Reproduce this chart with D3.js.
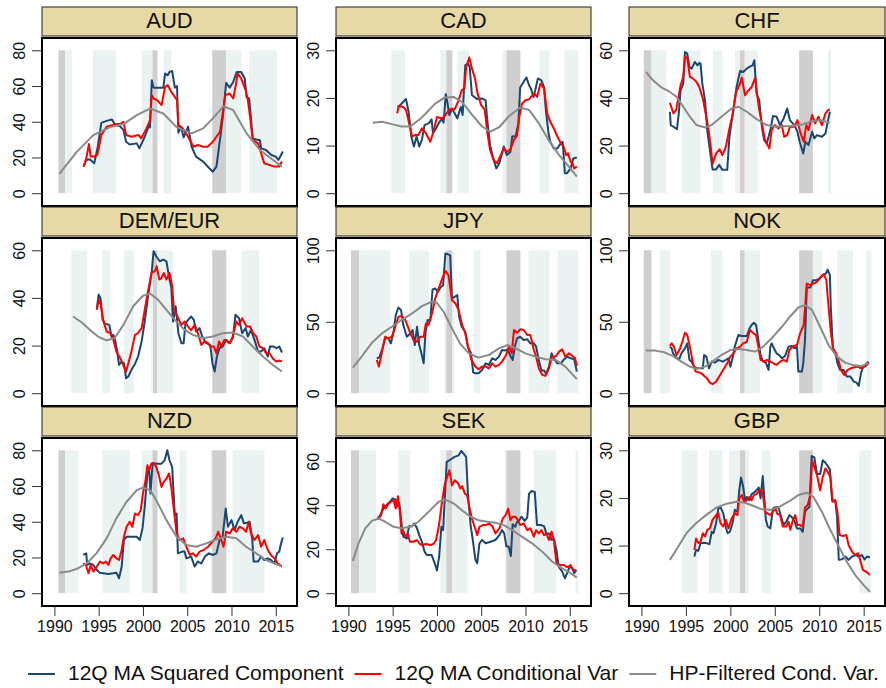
<!DOCTYPE html>
<html>
<head>
<meta charset="utf-8">
<script src="https://cdn.jsdelivr.net/npm/d3@7"></script>
<style>
  body { margin: 0; background: #fff; }
  text { font-family: "Liberation Sans", Arial, sans-serif; fill: #111; }
</style>
</head>
<body>
<svg id="chart" width="886" height="688"></svg>
<script>
// shading bands: [start, end, kind]  kind 0 = light, 1 = dark
const audBands = [[1990.45,1991.2,1],[1991.2,1992.0,0],[1994.35,1996.95,0],[1999.87,2001.07,0],[2001.07,2001.64,1],[2002.35,2003.2,0],[2007.83,2009.4,1],[2009.4,2011.1,0],[2012.0,2015.15,0]];
const audHp = [[1990.56,10.8],[1992.5,23],[1994.4,32.5],[1996.3,37],[1997.8,38.7],[1999.3,43.7],[2000.8,47.4],[2002.3,44.6],[2003.8,37],[2005.5,33.5],[2006.8,36.3],[2007.9,41.9],[2009.1,48.7],[2010.2,46.5],[2011.7,33.5],[2013.2,24.2],[2014.7,18.6],[2015.7,14.9]];
const audSq = [[1993.3,14.9],[1993.6,18.6],[1994.0,19],[1994.5,16.7],[1994.9,26],[1995.3,39.4],[1995.9,40.5],[1996.5,41.3],[1996.8,38.7],[1997.4,37.6],[1997.8,35.3],[1998.1,28.8],[1998.5,27.3],[1999.3,27.9],[1999.6,25.1],[2000.2,31.6],[2000.7,38.1],[2000.8,36.8],[2001.0,63.2],[2001.2,59.1],[2001.7,59.1],[2002.3,59.1],[2002.5,67],[2002.8,66],[2003.0,67.9],[2003.3,68.4],[2003.6,59.1],[2003.85,60],[2004.0,33.9],[2004.3,37.2],[2004.6,31.2],[2005.1,37.2],[2005.5,26],[2006.0,20.5],[2006.8,17.7],[2007.5,14],[2007.9,12],[2008.3,14.9],[2008.7,29.8],[2009.0,41.9],[2009.4,61.8],[2009.8,59.1],[2010.2,62.3],[2010.6,67.9],[2011.1,67.9],[2011.5,64.2],[2011.7,53.9],[2012.0,53],[2012.4,30.7],[2013.0,29.8],[2013.2,29.8],[2013.35,25.1],[2013.9,24.2],[2014.5,21.4],[2015.0,20.5],[2015.3,18.6],[2015.6,21.4],[2015.8,23.3]];
const audCv = [[1993.3,14.9],[1993.6,19.5],[1993.9,27.5],[1994.1,20.5],[1994.5,20.5],[1994.85,21.4],[1995.3,32.6],[1995.9,37.2],[1996.5,38.1],[1997.0,38.7],[1997.4,38.7],[1997.8,40],[1998.1,32.6],[1998.7,31.6],[1999.5,32.6],[1999.8,30.7],[2000.4,36.3],[2000.8,40.9],[2001.0,54.9],[2001.2,53],[2001.6,52.1],[2002.1,49.3],[2002.5,59.5],[2002.8,60.5],[2003.2,56.7],[2003.6,53.9],[2003.85,52.1],[2004.0,38.1],[2004.5,36.3],[2005.1,31.6],[2005.7,26],[2006.2,27],[2006.8,26],[2007.3,26],[2007.9,28.8],[2008.3,31.6],[2008.7,34.4],[2009.0,44.6],[2009.3,54.9],[2009.8,55.8],[2010.2,53],[2010.55,62.3],[2010.7,67],[2011.1,64.2],[2011.6,57.7],[2011.85,52.1],[2012.1,42.8],[2012.4,29.8],[2013.0,27.9],[2013.35,22.3],[2013.7,16.7],[2014.3,15.8],[2014.85,14.9],[2015.4,14.9],[2015.7,17.7]];

const cadBands = [[1994.83,1996.42,0],[2000.38,2001.06,0],[2001.06,2001.74,1],[2002.3,2003.62,0],[2007.4,2007.85,0],[2007.85,2009.43,1],[2011.58,2012.72,0],[2014.42,2016.0,0]];
const cadHp = [[1992.75,14.8],[1993.8,15],[1994.9,14.5],[1996.0,14],[1997.0,14],[1998.3,15.9],[1999.8,18.8],[2000.9,20.1],[2001.9,20.2],[2002.8,19.2],[2004.0,16.4],[2005.1,14],[2006.0,12.9],[2007.0,13.8],[2008.1,16.1],[2009.4,18],[2010.4,17.5],[2011.5,14.7],[2012.6,11.2],[2013.8,8],[2014.9,5.6],[2015.8,3.5]];
const cadSq = [[1995.55,18.1],[1995.85,18.5],[1996.2,19.2],[1996.5,19.8],[1996.8,17.1],[1997.1,11.9],[1997.4,9.8],[1997.7,11.9],[1998.0,9.8],[1998.3,11.2],[1998.6,14.3],[1999.1,14.7],[1999.4,15.5],[1999.55,12.6],[1999.9,13.6],[2000.2,14.7],[2000.6,15.7],[2000.75,14.8],[2001.0,20.8],[2001.2,18.8],[2001.4,16.4],[2001.7,17.8],[2002.0,16.8],[2002.3,15.7],[2002.7,18.1],[2002.9,16.4],[2003.2,26.9],[2003.5,27.2],[2003.7,26.5],[2003.95,20.6],[2004.5,19.8],[2005.1,19.9],[2005.5,19.5],[2005.65,16],[2006.0,10.1],[2006.3,7.7],[2006.7,5.2],[2007.05,6.3],[2007.55,9.8],[2007.9,8],[2008.3,8.7],[2008.5,11.9],[2008.9,12],[2009.2,14.7],[2009.4,22.2],[2009.8,23.4],[2010.1,24.3],[2010.4,22.7],[2010.6,22],[2010.9,20.2],[2011.1,21.6],[2011.4,24.1],[2011.8,23.7],[2012.1,22.2],[2012.3,17.5],[2012.6,12.6],[2012.8,10.8],[2013.2,9.4],[2013.6,9.4],[2014.0,10.5],[2014.2,10.8],[2014.45,4.2],[2014.7,4.2],[2015.1,5.2],[2015.4,7.3],[2015.8,7.5]];
const cadCv = [[1995.5,16.8],[1995.7,18.3],[1996.2,18.1],[1996.5,17.5],[1996.9,14.3],[1997.2,11.9],[1997.5,12.2],[1997.9,12.2],[1998.3,13.6],[1998.75,12.6],[1999.25,10.8],[1999.6,12.9],[2000.0,16],[2000.6,15.7],[2000.95,16.4],[2001.4,17.6],[2002.0,17.6],[2002.45,19.5],[2002.8,21.6],[2003.1,22],[2003.3,26.5],[2003.65,28.5],[2003.95,26.2],[2004.3,24.1],[2004.6,20.8],[2005.0,18.5],[2005.4,17.5],[2005.7,12.6],[2006.0,9.1],[2006.4,7],[2006.8,6.3],[2007.2,8],[2007.55,9.4],[2007.9,8.7],[2008.3,9.2],[2008.7,11.2],[2009.05,12.2],[2009.3,16],[2009.6,18.8],[2010.0,19.5],[2010.4,19.7],[2010.6,20.2],[2011.0,20.9],[2011.3,20.2],[2011.7,23],[2012.1,22],[2012.45,16.8],[2012.8,15],[2013.2,13.6],[2013.6,11.9],[2014.0,10.5],[2014.3,9.8],[2014.6,8],[2014.8,8.4],[2015.1,6.6],[2015.3,6.3],[2015.5,5.2],[2015.8,5.6]];

const chfBands = [[1990.26,1991.13,1],[1991.13,1992.82,0],[1994.55,1996.65,0],[1998.05,1999.14,0],[2000.53,2001.09,0],[2001.09,2001.62,1],[2001.62,2003.08,0],[2007.74,2009.29,1],[2010.98,2011.32,0]];
const chfHp = [[1990.5,50.9],[1991.3,47.4],[1992.25,44.4],[1993.2,42.5],[1993.95,40.5],[1994.7,36.3],[1995.45,32.1],[1996.2,28.6],[1997.15,27.6],[1997.9,28.6],[1999.0,32.1],[2000.15,35.6],[2000.9,36.3],[2001.85,34.2],[2003.0,31],[2004.1,28.6],[2005.2,27.9],[2006.7,28.2],[2007.85,28.6],[2009.0,30],[2010.1,30.7],[2011.2,29.6]];
const chfSq = [[1993.2,34.2],[1993.3,28.6],[1993.6,27.9],[1994.0,26.9],[1994.2,33.5],[1994.4,43.2],[1994.7,46],[1994.9,59.3],[1995.15,58.6],[1995.4,53],[1995.65,52.3],[1996.0,55.1],[1996.3,53.7],[1996.5,54.7],[1996.65,54.4],[1996.85,46],[1997.15,39.1],[1997.4,26.5],[1997.7,18.1],[1998.0,10],[1998.4,10],[1998.75,11.9],[1999.1,9.8],[1999.65,9.8],[1999.9,23.7],[2000.25,32.8],[2000.7,44.6],[2001.1,51.3],[2001.45,50.9],[2001.85,52.3],[2002.15,53],[2002.5,53.7],[2002.7,55.8],[2002.95,41.9],[2003.25,39.1],[2003.55,27.9],[2003.8,22.3],[2004.1,20.9],[2004.5,26.5],[2004.8,32.4],[2005.2,32.1],[2005.6,28.6],[2006.0,31.4],[2006.4,35.6],[2006.7,30.7],[2007.2,28.6],[2007.55,25.8],[2007.8,21.6],[2008.2,16.7],[2008.45,21.6],[2008.8,20.2],[2009.2,25.8],[2009.45,23],[2009.75,24.4],[2010.3,23.7],[2010.7,25.1],[2011.0,30.7],[2011.2,34.2]];
const chfCv = [[1993.2,37.9],[1993.6,33.5],[1993.9,34.9],[1994.1,39.1],[1994.4,45.3],[1994.7,48.8],[1994.9,57.2],[1995.15,56.9],[1995.45,48.8],[1995.8,48.1],[1996.2,46.7],[1996.5,44.6],[1996.9,39.8],[1997.15,34.9],[1997.5,27.9],[1997.8,19.5],[1998.0,12.3],[1998.4,16.7],[1998.8,18.4],[1999.1,16],[1999.5,19.5],[1999.9,27.2],[2000.25,32.8],[2000.65,42.5],[2001.0,45.3],[2001.3,48.5],[2001.65,41.1],[2002.0,43],[2002.4,44.6],[2002.8,48.5],[2002.95,43.2],[2003.25,34.9],[2003.55,29.3],[2003.9,22.3],[2004.4,18.8],[2004.65,26.5],[2005.0,28.6],[2005.4,27.2],[2005.8,28.6],[2006.05,23.7],[2006.4,24.4],[2006.7,27.9],[2007.2,27.9],[2007.55,30.7],[2007.85,25.8],[2008.25,21.6],[2008.55,28.6],[2008.8,26.5],[2009.2,32.8],[2009.55,29.3],[2009.9,32.1],[2010.3,28.6],[2010.7,33.5],[2011.0,34.9],[2011.2,35.2]];

const demBands = [[1991.9,1993.7,0],[1995.37,1996.27,0],[1997.85,1998.97,0],[2000.9,2001.15,0],[2001.15,2001.64,1],[2001.64,2003.44,0],[2007.83,2009.41,1],[2011.13,2013.12,0]];
const demHp = [[1992.1,32.2],[1993.1,29.7],[1994.0,26.6],[1995.0,23.6],[1995.9,22.2],[1996.8,23.1],[1997.8,28.7],[1998.9,36.5],[2000.0,40.9],[2000.8,41.8],[2001.7,39.3],[2002.65,35],[2003.6,30.8],[2004.7,26.6],[2005.65,24.5],[2006.8,23.1],[2007.9,23.8],[2009.0,25.2],[2010.15,25.5],[2011.3,23.8],[2012.4,19.6],[2013.55,15.4],[2014.65,11.9],[2015.7,9.1]];
const demSq = [[1994.8,35.7],[1995.0,41.4],[1995.2,40],[1995.45,30.8],[1995.7,29.2],[1996.2,28.7],[1996.45,23.8],[1996.65,24.5],[1996.85,22.4],[1997.1,17.5],[1997.3,11.9],[1997.6,13.3],[1997.85,12.6],[1998.1,6.3],[1998.35,7],[1998.7,9.8],[1999.1,12.3],[1999.45,15.4],[1999.85,21.7],[2000.2,30.1],[2000.6,41.4],[2001.0,51.2],[2001.2,59.6],[2001.5,57.5],[2001.9,55.4],[2002.3,56.1],[2002.65,55.4],[2003.0,47.7],[2003.2,44.6],[2003.4,30.1],[2003.7,36.5],[2004.0,25.2],[2004.35,21],[2004.6,21],[2004.8,29.4],[2005.1,30.8],[2005.45,32.2],[2005.75,30.8],[2006.0,25.9],[2006.4,27.3],[2006.7,23.8],[2007.15,21],[2007.6,20.3],[2007.85,12.6],[2008.1,9.1],[2008.35,15.4],[2008.65,18.9],[2009.0,19.6],[2009.4,22.4],[2009.8,21],[2010.15,23.1],[2010.45,32.9],[2010.85,31.5],[2011.2,25.2],[2011.6,27.3],[2011.85,23.8],[2012.2,26.6],[2012.6,22.4],[2013.0,17.5],[2013.35,17.5],[2013.7,18.9],[2014.1,15.4],[2014.35,19.6],[2014.75,19.6],[2015.1,18.9],[2015.4,19.6],[2015.7,17.1]];
const demCv = [[1994.8,35],[1995.0,39.3],[1995.25,37.1],[1995.5,30.8],[1995.9,25.9],[1996.3,25.2],[1996.65,22.4],[1997.0,17.5],[1997.5,14.3],[1997.85,11.2],[1998.1,9.1],[1998.35,12.6],[1998.7,17.5],[1999.1,24.5],[1999.45,25.2],[1999.85,27.3],[2000.2,35],[2000.6,43.5],[2001.0,50.7],[2001.35,51.2],[2001.55,53.3],[2001.85,47.7],[2002.1,48.4],[2002.35,50.5],[2002.65,47.7],[2003.0,50.5],[2003.3,44.9],[2003.5,35],[2003.9,32.2],[2004.35,28.7],[2004.7,30.1],[2005.1,28],[2005.45,26.4],[2005.85,28.7],[2006.2,25.2],[2006.6,20.3],[2006.95,21.7],[2007.35,21],[2007.6,19.6],[2008.0,19.6],[2008.3,16.8],[2008.6,21.7],[2008.85,19.6],[2009.2,22.4],[2009.8,21],[2010.15,23.8],[2010.55,30.1],[2010.85,28.7],[2011.2,31.5],[2011.7,28],[2012.1,28],[2012.4,25.5],[2012.8,23.8],[2013.15,19.6],[2013.55,18.9],[2013.9,16.8],[2014.3,16.8],[2014.65,14.7],[2015.05,13.3],[2015.4,13.7],[2015.7,13.3]];

const jpyBands = [[1990.3,1991.2,1],[1991.2,1994.7,0],[1996.87,1999.13,0],[2000.83,2001.06,0],[2001.06,2001.74,1],[2001.74,2001.96,0],[2004.15,2004.9,0],[2007.85,2009.43,1],[2010.34,2012.72,0],[2013.62,2016.0,0]];
const jpyHp = [[1990.5,17.9],[1991.5,25.6],[1992.6,34.9],[1993.8,41.9],[1994.9,46.5],[1996.0,51.2],[1997.2,55.8],[1998.3,60.9],[1999.4,64],[2000.0,63.3],[2000.75,57],[2001.7,45.3],[2002.6,34.9],[2003.6,27.9],[2004.7,24.9],[2005.85,26.7],[2007.0,31.4],[2008.0,33.7],[2008.9,31.4],[2010.0,27.9],[2011.1,25.6],[2012.3,23.7],[2013.4,23.3],[2014.5,18.6],[2015.8,9.8]];
const jpySq = [[1993.2,24.4],[1993.5,25.1],[1993.85,31.4],[1994.15,38.4],[1994.5,38.4],[1994.8,34.9],[1995.1,43],[1995.35,54.7],[1995.65,60],[1995.95,58.1],[1996.2,47.7],[1996.6,39.5],[1997.0,41.9],[1997.25,44.2],[1997.5,33.7],[1997.75,46.5],[1998.0,33.7],[1998.2,29.1],[1998.5,20.9],[1998.7,41.9],[1998.95,51.2],[1999.25,50.7],[1999.5,72.6],[1999.8,73.3],[2000.1,70.9],[2000.4,74],[2000.7,75.6],[2000.95,97.7],[2001.25,97.2],[2001.5,96.5],[2001.7,66.3],[2002.0,67.4],[2002.3,68.6],[2002.5,53.5],[2002.8,46.5],[2003.2,43],[2003.5,32.6],[2003.85,27.9],[2004.1,14.4],[2004.35,14],[2004.7,14],[2005.1,16.3],[2005.5,20.9],[2005.85,19.8],[2006.25,24.4],[2006.6,23.3],[2007.0,25.6],[2007.35,30.2],[2007.65,29.8],[2008.0,30.7],[2008.3,26],[2008.55,23.3],[2008.8,32.6],[2009.05,38.4],[2009.4,39.5],[2009.8,37.2],[2010.2,37.7],[2010.55,34.9],[2010.95,34.9],[2011.2,32.6],[2011.5,23.3],[2011.8,15.8],[2012.1,15.8],[2012.35,13.5],[2012.65,18.6],[2012.95,27.9],[2013.2,24.4],[2013.6,20.9],[2014.0,20.9],[2014.3,23.3],[2014.7,25.6],[2015.1,24.4],[2015.5,23.7],[2015.8,15.1]];
const jpyCv = [[1993.2,23.3],[1993.45,18.6],[1993.8,29.1],[1994.15,39.5],[1994.5,38.4],[1994.9,39.5],[1995.3,46.5],[1995.65,53.5],[1996.0,54],[1996.35,52.3],[1996.65,47.7],[1997.0,41.9],[1997.35,37.2],[1997.75,36],[1998.1,39.5],[1998.5,39.5],[1998.75,48.8],[1999.05,47.7],[1999.45,55.8],[1999.8,66.3],[2000.2,73.3],[2000.6,80.2],[2000.95,85.6],[2001.3,82.6],[2001.7,65.1],[2002.1,62.8],[2002.45,58.1],[2002.85,47.7],[2003.2,41.9],[2003.5,32.6],[2003.9,23.3],[2004.35,18.6],[2004.7,16.7],[2005.1,18.6],[2005.55,18.6],[2005.85,17.4],[2006.25,20.9],[2006.6,18.6],[2007.0,19.8],[2007.35,22.1],[2007.75,26],[2008.15,32.6],[2008.45,27.9],[2008.7,44.2],[2009.05,42.3],[2009.4,44.7],[2009.8,44.2],[2010.2,40.7],[2010.55,40.7],[2010.95,30.2],[2011.2,25.6],[2011.5,17.4],[2011.9,12.8],[2012.25,12.1],[2012.65,17.4],[2013.0,25.6],[2013.4,25.6],[2013.8,29.1],[2014.15,30.7],[2014.5,25.6],[2014.9,27.9],[2015.3,26],[2015.6,24.4],[2015.8,19.1]];

const nokBands = [[1990.26,1991.13,1],[1992.07,1993.2,0],[1997.82,1999.14,0],[2001.09,2001.62,1],[2001.62,2003.35,0],[2007.74,2009.29,1],[2009.29,2010.3,0],[2012.03,2013.8,0],[2015.3,2015.86,0]];
const nokHp = [[1990.5,29.8],[1991.5,29.8],[1992.6,28.6],[1993.55,26],[1994.5,22.1],[1995.45,18.6],[1996.2,17],[1997.15,18.6],[1998.1,22.6],[1999.0,26.7],[2000.0,30.2],[2000.9,30.9],[2001.85,30.2],[2002.8,29.1],[2003.7,32.6],[2004.65,38.4],[2005.8,46.5],[2006.7,53.5],[2007.65,60],[2008.4,61.6],[2009.2,58.1],[2010.1,46.5],[2011.05,33.7],[2012.0,25.6],[2012.9,21.4],[2013.9,19.5],[2014.8,19.1],[2015.55,20.9]];
const nokSq = [[1993.2,32.6],[1993.4,31.4],[1993.55,27.9],[1993.9,25.1],[1994.25,23.7],[1994.5,27.9],[1994.9,31.4],[1995.15,34.9],[1995.4,23.3],[1995.65,22.1],[1995.9,18.6],[1996.2,17.4],[1996.6,17.4],[1996.9,17.4],[1997.05,26.7],[1997.3,25.6],[1997.6,17.4],[1997.9,22.1],[1998.3,21.4],[1998.65,23.3],[1999.15,22.1],[1999.5,23.3],[1999.8,24.4],[2000.0,18.6],[2000.25,24.4],[2000.5,32.6],[2000.9,40.7],[2001.3,40],[2001.85,40],[2002.15,45.3],[2002.4,47.7],[2002.65,49.3],[2002.9,47.7],[2003.15,37.2],[2003.4,26.7],[2003.7,22.1],[2004.0,21.4],[2004.3,16.3],[2004.5,32.6],[2004.65,34.9],[2004.9,31.4],[2005.2,27.9],[2005.5,26.7],[2005.8,24.4],[2006.15,26],[2006.55,32.6],[2006.9,33],[2007.3,31.4],[2007.5,32.6],[2007.65,15.1],[2008.05,15.1],[2008.2,20.9],[2008.4,37.2],[2008.6,74],[2009.0,74],[2009.3,79.1],[2009.65,79.1],[2010.05,80.2],[2010.4,82.6],[2010.7,83.3],[2010.95,86.5],[2011.2,82.6],[2011.3,60.5],[2011.55,30.2],[2011.8,28.4],[2012.05,20.9],[2012.35,16.3],[2012.75,16.3],[2013.1,11.6],[2013.5,11.6],[2013.9,8.1],[2014.2,7.4],[2014.45,5.1],[2014.7,14],[2014.95,18.6],[2015.2,19.8],[2015.55,22.1]];
const nokCv = [[1993.2,33],[1993.4,34.9],[1993.65,32.6],[1993.95,26.7],[1994.3,30.7],[1994.6,36],[1994.9,42.3],[1995.15,40.7],[1995.45,32.6],[1995.8,20.9],[1996.1,15.1],[1996.6,14.4],[1996.95,12.8],[1997.35,10.5],[1997.7,7.4],[1998.0,6.3],[1998.4,8.1],[1998.85,12.8],[1999.3,17.4],[1999.65,20.9],[2000.0,25.6],[2000.35,27.9],[2000.7,31.4],[2001.1,32.6],[2001.45,34.9],[2001.85,36],[2002.2,44.2],[2002.6,41.9],[2002.9,40.7],[2003.15,32.6],[2003.4,23.3],[2003.8,22.1],[2004.1,23.3],[2004.5,22.1],[2004.85,20.9],[2005.2,19.8],[2005.6,22.1],[2006.0,23.3],[2006.35,22.1],[2006.65,30.2],[2007.1,33],[2007.5,33.7],[2007.85,41.9],[2008.25,47.7],[2008.4,59.3],[2008.6,76.7],[2009.0,75.6],[2009.35,76.7],[2009.75,77.9],[2010.1,80.9],[2010.5,83.3],[2010.8,79.1],[2011.05,60.5],[2011.3,43],[2011.55,31.4],[2011.8,29.1],[2012.05,25.6],[2012.45,16.3],[2012.8,12.8],[2013.2,16.3],[2013.55,17.4],[2013.95,18.1],[2014.3,18.6],[2014.7,17.4],[2015.05,18.6],[2015.4,19.8],[2015.55,21.6]];

const nzdBands = [[1990.45,1991.2,1],[1991.2,1992.74,0],[1995.37,1998.52,0],[1999.87,2001.07,0],[2001.07,2001.64,1],[2004.15,2004.9,0],[2007.65,2007.83,0],[2007.83,2009.41,1],[2010.12,2013.72,0]];
const nzdHp = [[1990.55,11.5],[1991.6,12.1],[1992.7,14],[1993.65,16.7],[1994.75,22.3],[1995.9,30.7],[1997.0,41.9],[1998.15,51.2],[1999.3,57.7],[2000.0,59.1],[2000.8,57.7],[2001.5,52.1],[2002.65,40.9],[2003.8,31.6],[2004.9,27],[2006.0,26],[2007.15,27.9],[2008.3,30.1],[2009.4,31.6],[2010.55,30.7],[2011.65,26],[2012.8,22.3],[2013.9,18.6],[2014.85,16.7],[2015.7,14.9]];
const nzdSq = [[1993.25,21.4],[1993.6,22.3],[1993.7,15.8],[1994.0,16.7],[1994.4,15.8],[1994.8,13],[1995.1,11.5],[1995.5,11.2],[1996.1,10.8],[1996.65,11.2],[1997.0,11.5],[1997.3,8.4],[1997.6,14.9],[1997.85,29.8],[1998.15,31.6],[1998.7,31.6],[1999.3,31.6],[1999.65,29.8],[1999.95,36.3],[2000.2,48.4],[2000.5,67],[2000.7,69.8],[2000.85,55.8],[2001.1,72.9],[2001.5,72.5],[2002.1,72.5],[2002.45,74.4],[2002.75,80],[2003.0,74.4],[2003.3,70.7],[2003.6,43.7],[2003.8,44.6],[2003.95,22.3],[2004.45,23.3],[2004.7,23.3],[2004.9,19.5],[2005.45,20.5],[2005.85,14.9],[2006.2,17.7],[2006.6,16.7],[2007.0,20.5],[2007.45,22.3],[2007.9,21.4],[2008.3,22.3],[2008.65,29.8],[2009.0,31.6],[2009.35,47.4],[2009.6,37.2],[2010.0,40.9],[2010.35,35.3],[2010.7,40],[2011.1,43.7],[2011.4,39.1],[2011.75,39.4],[2012.05,40],[2012.35,29.8],[2012.5,17.7],[2013.0,17.7],[2013.35,20.5],[2013.7,18.6],[2014.1,19.5],[2014.45,18.6],[2014.85,16.7],[2015.15,22.3],[2015.4,23.3],[2015.6,27.9],[2015.8,31.2]];
const nzdCv = [[1993.25,16.7],[1993.55,15.8],[1993.85,11.2],[1994.1,15.8],[1994.4,12.1],[1994.8,14.9],[1995.15,17.7],[1995.5,16.7],[1995.8,17.7],[1996.1,15.8],[1996.35,19.5],[1996.65,21.4],[1997.0,19.5],[1997.3,18.6],[1997.6,24.2],[1997.85,31.6],[1998.15,37.2],[1998.5,40],[1998.8,37.2],[1999.1,44.6],[1999.45,43.7],[1999.75,46.5],[2000.0,55.8],[2000.3,63.2],[2000.5,71.6],[2000.7,68.8],[2000.95,72.5],[2001.2,72.9],[2001.5,70.7],[2001.8,66],[2002.1,59.5],[2002.35,62.3],[2002.65,64.2],[2002.95,67],[2003.2,59.5],[2003.5,46.5],[2003.8,33.5],[2004.15,29.8],[2004.55,30.7],[2004.9,26],[2005.3,21.4],[2005.65,22.3],[2006.0,20.5],[2006.4,23.3],[2006.85,24.2],[2007.35,26],[2007.85,28.8],[2008.2,30.7],[2008.5,34.4],[2008.85,29.8],[2009.1,26],[2009.4,34.4],[2009.8,33.5],[2010.15,36.3],[2010.55,34.4],[2010.9,37.2],[2011.3,36.3],[2011.65,34.4],[2011.95,40],[2012.2,33.5],[2012.6,29.8],[2013.0,32.6],[2013.35,26],[2013.7,29.8],[2014.1,24.2],[2014.45,21.4],[2014.85,19.5],[2015.2,16.7],[2015.7,14.9]];

const sekBands = [[1990.3,1991.2,1],[1991.2,1993.13,0],[1995.62,1996.98,0],[2000.38,2001.06,0],[2001.06,2001.74,1],[2001.74,2003.43,0],[2007.66,2007.85,0],[2007.85,2009.43,1],[2010.9,2013.47,0],[2015.66,2016.0,0]];
const sekHp = [[1990.5,14.7],[1991.15,22.7],[1991.9,29.5],[1992.65,32.9],[1993.4,34],[1994.15,32.5],[1995.1,30.2],[1996.0,29.5],[1997.0,30.2],[1997.9,32.5],[1999.05,37],[2000.2,41.6],[2000.95,42.6],[2001.9,40.8],[2002.8,37.8],[2003.8,34.8],[2004.7,33.2],[2005.7,32.5],[2006.6,32],[2007.55,31],[2008.5,28.7],[2009.6,25.7],[2010.75,22.7],[2011.9,18.9],[2013.0,14.4],[2014.15,11.3],[2015.1,9.1],[2015.8,7.1]];
const sekSq = [[1993.3,34],[1993.6,35.5],[1993.85,37.8],[1994.15,39.3],[1994.45,40.8],[1994.7,41.6],[1995.0,43.1],[1995.3,42.6],[1995.45,39.3],[1995.75,40.8],[1996.0,31.7],[1996.2,25.7],[1996.6,24.9],[1996.85,30.5],[1997.2,30.5],[1997.45,31.7],[1997.75,29.5],[1998.0,26.4],[1998.3,23.4],[1998.6,18.9],[1998.85,17.4],[1999.4,17.4],[1999.75,13.6],[2000.0,10.3],[2000.25,16.6],[2000.5,30.2],[2000.7,28.7],[2000.95,47.6],[2001.1,59.7],[2001.5,60.7],[2002.0,62],[2002.45,62.7],[2002.75,64.7],[2003.0,63.5],[2003.3,62],[2003.5,45.3],[2003.8,31],[2004.05,24.2],[2004.35,15.1],[2004.55,13.6],[2004.8,22.7],[2005.1,24.2],[2005.5,22.7],[2006.05,23.4],[2006.6,24.2],[2007.05,26.4],[2007.35,28.7],[2007.6,27.2],[2007.85,21.2],[2008.1,21.2],[2008.35,16.9],[2008.55,31.4],[2008.85,30.2],[2009.05,32.5],[2009.3,33.2],[2009.55,34.8],[2009.9,32.9],[2010.2,34.4],[2010.4,45.3],[2010.7,46.5],[2011.05,46.1],[2011.3,31],[2011.7,31],[2012.1,30.5],[2012.35,27.2],[2012.65,27.2],[2012.95,24.2],[2013.2,24.9],[2013.5,19.6],[2013.75,12.1],[2014.15,9.8],[2014.45,6.8],[2014.7,9.1],[2015.0,12.1],[2015.3,11.3],[2015.5,9.1],[2015.75,10.6]];
const sekCv = [[1993.3,33.5],[1993.7,35.5],[1993.95,40.5],[1994.2,38.5],[1994.5,40.5],[1994.8,41.6],[1995.1,42.3],[1995.35,38.5],[1995.6,44.1],[1995.8,37.8],[1996.0,27.2],[1996.15,28.7],[1996.4,26],[1996.7,26.9],[1996.95,23.4],[1997.35,23.4],[1997.75,24.2],[1998.0,22.7],[1998.3,21.9],[1998.75,22.4],[1999.25,21.9],[1999.6,22.4],[1999.9,24.2],[2000.2,30.2],[2000.55,40.8],[2000.9,49.9],[2001.1,52.1],[2001.4,55.9],[2001.7,49.1],[2002.0,51.4],[2002.4,49.9],[2002.65,47.6],[2002.85,48.7],[2003.15,45.3],[2003.4,44.6],[2003.65,39.3],[2003.95,34],[2004.25,30.2],[2004.55,26.4],[2004.8,30.2],[2005.2,31],[2005.55,31],[2005.9,31.7],[2006.3,30.2],[2006.6,27.2],[2007.05,29.5],[2007.45,34],[2007.75,35.5],[2008.05,38.5],[2008.3,33.2],[2008.55,34.8],[2008.85,34.8],[2009.15,33.2],[2009.4,31],[2009.8,31.7],[2010.2,28.7],[2010.55,29.5],[2010.95,25.7],[2011.2,28.7],[2011.5,27.2],[2011.8,28.7],[2012.1,26.4],[2012.35,27.2],[2012.65,24.2],[2012.95,28],[2013.2,24.2],[2013.5,13.6],[2013.95,12.8],[2014.35,12.8],[2014.7,11.8],[2015.1,12.8],[2015.35,10.6],[2015.65,10.6]];

const gbpBands = [[1994.55,1996.32,0],[1997.6,1999.14,0],[1999.85,2001.09,0],[2001.09,2001.65,1],[2001.65,2002.1,0],[2003.57,2004.55,0],[2007.74,2009.29,1],[2014.5,2015.86,0]];
const gbpHp = [[1993.2,7],[1994.15,9.8],[1995.1,12.7],[1996.2,14.8],[1997.35,16.5],[1998.45,18],[1999.6,18.8],[2000.7,19.2],[2001.65,19],[2002.6,18.3],[2003.55,17.6],[2004.5,17.5],[2005.4,18],[2006.55,19.2],[2007.65,20.6],[2008.6,21.1],[2009.35,20.2],[2010.3,17.1],[2011.25,13.3],[2012.2,9.8],[2013.1,6.6],[2014.05,3.8],[2015.0,1.7],[2015.7,0.3]];
const gbpSq = [[1995.95,7.7],[1996.15,9.1],[1996.4,8.9],[1996.65,10.5],[1997.15,10.6],[1997.65,10.3],[1997.9,12.9],[1998.1,12.6],[1998.4,14.7],[1998.65,17.8],[1998.9,18],[1999.2,16.8],[1999.5,13.8],[1999.7,12.6],[1999.95,12.9],[2000.25,14.7],[2000.5,17.5],[2000.8,17.1],[2001.0,21.6],[2001.2,24.3],[2001.45,22.3],[2001.65,19.5],[2001.85,20.2],[2002.15,19.5],[2002.4,20.8],[2002.65,21.1],[2002.95,21.6],[2003.2,22.2],[2003.4,19.9],[2003.65,24.6],[2003.8,20.6],[2004.0,15.4],[2004.2,14],[2004.5,13.6],[2004.8,17.8],[2005.05,18],[2005.4,18.1],[2005.7,16.1],[2006.0,14.3],[2006.35,15.2],[2006.65,16.4],[2006.95,15.9],[2007.2,15.2],[2007.5,13.6],[2007.85,13.6],[2008.15,12.9],[2008.4,17.1],[2008.7,17.8],[2008.9,18.1],[2009.15,28.8],[2009.45,28.5],[2009.75,25],[2010.1,25],[2010.4,27.9],[2010.7,27.4],[2010.95,26.7],[2011.2,26],[2011.45,19.4],[2011.8,19.5],[2012.0,16.1],[2012.2,7],[2012.55,7.1],[2012.95,7.7],[2013.3,7],[2013.7,7.7],[2014.05,8],[2014.45,7.7],[2014.8,8],[2015.1,7.1],[2015.4,7.7],[2015.7,7.5]];
const gbpCv = [[1995.95,9.1],[1996.15,11.5],[1996.4,10.5],[1996.65,10.8],[1996.9,12.6],[1997.15,11.9],[1997.4,13.3],[1997.7,13.6],[1998.0,15.4],[1998.4,16.4],[1998.65,16.8],[1998.9,14.7],[1999.2,14],[1999.5,15.4],[1999.8,13.6],[2000.15,15.7],[2000.5,16.8],[2000.8,16.4],[2001.0,19.9],[2001.3,20.6],[2001.55,19.2],[2001.85,19.5],[2002.15,20.2],[2002.4,19.5],[2002.65,20.6],[2002.95,20.8],[2003.25,21.6],[2003.5,21.8],[2003.7,20.2],[2003.9,17.1],[2004.15,16.8],[2004.5,16.4],[2004.8,17.1],[2005.05,18],[2005.3,16.6],[2005.6,16.4],[2005.9,14],[2006.3,14],[2006.55,15],[2006.75,13.3],[2007.05,15.4],[2007.3,16.4],[2007.55,14.3],[2007.85,14.3],[2008.15,14],[2008.4,18],[2008.7,18.5],[2009.0,20.6],[2009.2,27.9],[2009.45,26.5],[2009.75,24.8],[2010.1,21.6],[2010.4,24.4],[2010.7,26.2],[2010.95,25.5],[2011.25,24.4],[2011.5,19.2],[2011.8,19.5],[2012.05,17.1],[2012.3,12.2],[2012.65,12],[2013.05,12.2],[2013.3,10.1],[2013.7,8.7],[2014.05,8],[2014.35,8.4],[2014.6,7],[2014.9,4.9],[2015.3,4.5],[2015.7,3.8]];

const currencies = ["AUD", "CAD", "CHF", "DEM/EUR", "JPY", "NOK", "NZD", "SEK", "GBP"];
const yTicks = [[0,20,40,60,80],[0,10,20,30],[0,20,40,60],[0,20,40,60],[0,50,100],[0,50,100],[0,20,40,60,80],[0,20,40,60],[0,10,20,30]];
const yMax = [80, 30, 60, 60, 100, 100, 80, 65, 30];
const xTicks = [1990, 1995, 2000, 2005, 2010, 2015];
const seriesNames = ["12Q MA Squared Component", "12Q MA Conditional Var", "HP-Filtered Cond. Var."];

const bands = [audBands, cadBands, chfBands, demBands, jpyBands, nokBands, nzdBands, sekBands, gbpBands];
const sqData = [audSq, cadSq, chfSq, demSq, jpySq, nokSq, nzdSq, sekSq, gbpSq];
const cvData = [audCv, cadCv, chfCv, demCv, jpyCv, nokCv, nzdCv, sekCv, gbpCv];
const hpData = [audHp, cadHp, chfHp, demHp, jpyHp, nokHp, nzdHp, sekHp, gbpHp];

const lineColors = ["#1a476f", "#ff0000", "#8a8a8a"];
const bandColors = ["#ebf3f2", "#cfcfcf"];

const colLeft = [42, 336, 629];
const colRight = [297, 591, 885];

const svg = d3.select("#chart");
svg.append("rect").attr("width", 886).attr("height", 688).attr("fill", "#fff");

currencies.forEach(function (name, i) {
    const col = i % 3, row = Math.floor(i / 3);
    const left = colLeft[col], right = colRight[col];
    const off = row * 200;
    const plotTop = 38 + off, plotBottom = 206 + off;

    const x = d3.scaleLinear().domain([1988.6, 2017.4]).range([left, right]);
    const y = d3.scaleLinear().domain([0, yMax[i]]).range([193.2 + off, 50.3 + off]);

    const g = svg.append("g");

    // header strip
    g.append("rect")
        .attr("x", left).attr("y", 7 + off)
        .attr("width", right - left).attr("height", 29)
        .attr("fill", "#e6d9a6").attr("stroke", "#222").attr("stroke-width", 1);
    g.append("text")
        .attr("x", (left + right) / 2).attr("y", 28 + off)
        .attr("text-anchor", "middle").style("font-size", "22px")
        .text(name);

    // plot background
    g.append("rect")
        .attr("x", left).attr("y", plotTop)
        .attr("width", right - left).attr("height", plotBottom - plotTop)
        .attr("fill", "#fff");

    // shaded periods
    g.append("g").selectAll("rect")
        .data(bands[i])
        .enter()
        .append("rect")
        .attr("x", d => x(d[0]))
        .attr("width", d => x(d[1]) - x(d[0]))
        .attr("y", y(yMax[i]))
        .attr("height", y(0) - y(yMax[i]))
        .attr("fill", d => bandColors[d[2]]);

    const line = d3.line().x(d => x(d[0])).y(d => y(d[1]));
    [sqData[i], cvData[i], hpData[i]].forEach(function (series, k) {
        g.append("path")
            .datum(series)
            .attr("d", line)
            .attr("fill", "none")
            .attr("stroke", lineColors[k])
            .attr("stroke-width", 2)
            .attr("stroke-linejoin", "round");
    });

    // frame
    g.append("rect")
        .attr("x", left).attr("y", plotTop)
        .attr("width", right - left).attr("height", plotBottom - plotTop)
        .attr("fill", "none").attr("stroke", "#000").attr("stroke-width", 2);

    // y axis, labels turned on their side
    const yAxis = d3.axisLeft(y).tickValues(yTicks[i]).tickSize(10).tickFormat(d3.format("d"));
    const ya = g.append("g").attr("transform", "translate(" + left + ",0)").call(yAxis);
    ya.select(".domain").remove();
    ya.selectAll("line").attr("stroke", "#333");
    ya.selectAll("text")
        .attr("x", null).attr("y", null).attr("dy", null)
        .attr("transform", "translate(-17,0) rotate(-90)")
        .attr("text-anchor", "middle")
        .style("font-size", "16px")
        .style("font-family", "'Liberation Sans', Arial, sans-serif")
        .attr("fill", "#111");

    // x axis only on the bottom row
    if (row === 2) {
        const xAxis = d3.axisBottom(x).tickValues(xTicks).tickSize(9).tickFormat(d3.format("d"));
        const xa = g.append("g").attr("transform", "translate(0," + (plotBottom + 1) + ")").call(xAxis);
        xa.select(".domain").remove();
        xa.selectAll("line").attr("stroke", "#333");
        xa.selectAll("text")
            .attr("y", 25).attr("dy", null)
            .style("font-size", "16px")
            .style("font-family", "'Liberation Sans', Arial, sans-serif")
            .attr("fill", "#111");
    }
});

// legend
const legend = svg.append("g");
let lx = 28;
seriesNames.forEach(function (name, k) {
    legend.append("line")
        .attr("x1", lx).attr("x2", lx + 27)
        .attr("y1", 674).attr("y2", 674)
        .attr("stroke", lineColors[k]).attr("stroke-width", 2);
    const t = legend.append("text")
        .attr("x", lx + 40).attr("y", 680)
        .style("font-size", "21px")
        .text(name);
    lx = lx + 40 + t.node().getComputedTextLength() + 11;
});
</script>
</body>
</html>
